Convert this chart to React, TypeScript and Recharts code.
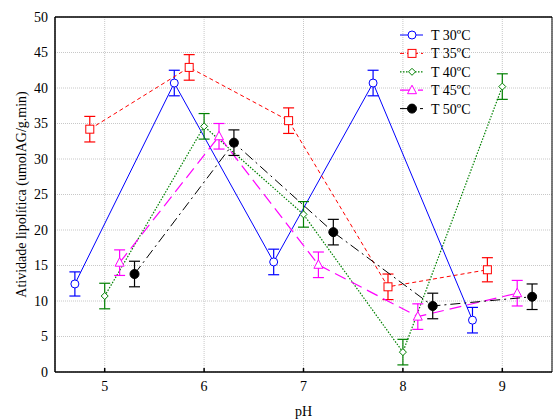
import React from 'react';
import {
  LineChart,
  Line,
  XAxis,
  YAxis,
  CartesianGrid,
  ErrorBar,
  Legend,
} from 'recharts';

// pH positions (each series is shifted a little so the error bars don't overlap)
const pH30 = [4.7, 5.7, 6.7, 7.7, 8.7];
const pH35 = [4.85, 5.85, 6.85, 7.85, 8.85];
const pH40 = [5, 6, 7, 8, 9];
const pH45 = [5.15, 6.15, 7.15, 8.15, 9.15];
const pH50 = [5.3, 6.3, 7.3, 8.3, 9.3];

// atividade lipolítica (umolAG/g.min)
const act30 = [12.4, 40.7, 15.5, 40.7, 7.3];
const act35 = [34.2, 42.9, 35.4, 12.0, 14.4];
const act40 = [10.7, 34.6, 22.2, 2.8, 40.2];
const act45 = [15.4, 33.2, 15.1, 7.8, 11.1];
const act50 = [13.8, 32.3, 19.7, 9.3, 10.6];

// desvio padrão
const err30 = [1.7, 1.8, 1.8, 1.8, 1.8];
const err35 = [1.8, 1.8, 1.8, 1.8, 1.7];
const err40 = [1.8, 1.8, 1.8, 1.8, 1.8];
const err45 = [1.8, 1.8, 1.8, 1.8, 1.8];
const err50 = [1.8, 1.8, 1.8, 1.8, 1.8];

const xTicks = [5, 6, 7, 8, 9];
const yTicks = [0, 5, 10, 15, 20, 25, 30, 35, 40, 45, 50];

const FONT = '"Liberation Serif", "DejaVu Serif", serif';

type Shape = 'circle' | 'square' | 'diamond' | 'triangle' | 'dot';

const build = (xs: number[], ys: number[], es: number[]) =>
  xs.map((x, i) => ({ x, y: ys[i], err: es[i] }));

const series = [
  { name: 'T 30ºC', data: build(pH30, act30, err30), color: '#0000ff', dash: undefined, width: 1, shape: 'circle' as Shape },
  { name: 'T 35ºC', data: build(pH35, act35, err35), color: '#ff0000', dash: '4 3', width: 1, shape: 'square' as Shape },
  { name: 'T 40ºC', data: build(pH40, act40, err40), color: '#008000', dash: '1.5 1.5', width: 1.2, shape: 'diamond' as Shape },
  { name: 'T 45ºC', data: build(pH45, act45, err45), color: '#ff00ff', dash: '12 6', width: 1.2, shape: 'triangle' as Shape },
  { name: 'T 50ºC', data: build(pH50, act50, err50), color: '#000000', dash: '10 4 2 4', width: 1, shape: 'dot' as Shape },
];

const Marker = ({ shape, color, cx, cy }: { shape: Shape; color: string; cx: number; cy: number }) => {
  if (shape === 'circle') return <circle cx={cx} cy={cy} r={4} fill="#fff" stroke={color} strokeWidth={1} />;
  if (shape === 'square') return <rect x={cx - 4} y={cy - 4} width={8} height={8} fill="#fff" stroke={color} strokeWidth={1} />;
  if (shape === 'diamond')
    return (
      <polygon
        points={`${cx},${cy - 3.5} ${cx + 3.5},${cy} ${cx},${cy + 3.5} ${cx - 3.5},${cy}`}
        fill="#fff"
        stroke={color}
        strokeWidth={1}
      />
    );
  if (shape === 'triangle')
    return (
      <polygon
        points={`${cx},${cy - 5} ${cx + 4.5},${cy + 3.5} ${cx - 4.5},${cy + 3.5}`}
        fill="#fff"
        stroke={color}
        strokeWidth={1}
      />
    );
  return <circle cx={cx} cy={cy} r={4.5} fill={color} stroke={color} />;
};

const renderLegend = () => (
  <svg width={130} height={100} style={{ display: 'block' }}>
    {series.map((s, i) => {
      const y = 11 + i * 18.4;
      return (
        <g key={s.name}>
          <line x1={0} x2={23} y1={y} y2={y} stroke={s.color} strokeWidth={s.width} strokeDasharray={s.dash} />
          <Marker shape={s.shape} color={s.color} cx={12} cy={y} />
          <text x={31} y={y + 5} fontFamily={FONT} fontSize={14} fill="#000">
            {s.name}
          </text>
        </g>
      );
    })}
  </svg>
);

const tickStyle = { fontFamily: FONT, fontSize: 14, fill: '#000' };

const App: React.FC = () => {
  return (
    <div style={{ position: 'absolute', left: 0, top: 0, background: '#fff' }}>
      <LineChart width={553} height={419} margin={{ top: 16, right: 0, bottom: 0, left: 0 }}>
        <CartesianGrid stroke="#c8c8c8" strokeDasharray="1 1" />
        <XAxis
          dataKey="x"
          type="number"
          domain={[4.5, 9.5]}
          ticks={xTicks}
          allowDuplicatedCategory={false}
          height={47}
          stroke="#000"
          strokeWidth={1.5}
          tickSize={-4}
          tickMargin={13}
          tick={tickStyle}
          label={{ value: 'pH', position: 'insideBottom', offset: 3, style: { ...tickStyle } }}
        />
        <XAxis
          xAxisId="top"
          orientation="top"
          dataKey="x"
          type="number"
          domain={[4.5, 9.5]}
          ticks={xTicks}
          height={1}
          stroke="#000"
          strokeWidth={1.5}
          tickSize={-4}
          tick={false}
        />
        <YAxis
          type="number"
          domain={[0, 50]}
          ticks={yTicks}
          width={55}
          stroke="#000"
          strokeWidth={1.5}
          tickSize={0}
          tickMargin={7}
          tick={tickStyle}
          label={{
            value: 'Atividade lipolítica (umolAG/g.min)',
            angle: -90,
            position: 'center',
            dx: -6,
            style: { ...tickStyle, textAnchor: 'middle' },
          }}
        />
        <YAxis
          yAxisId="right"
          orientation="right"
          type="number"
          domain={[0, 50]}
          ticks={yTicks}
          width={1}
          stroke="#000"
          tickSize={-4}
          tick={false}
        />
        <Legend
          layout="vertical"
          align="center"
          verticalAlign="middle"
          content={renderLegend}
          wrapperStyle={{ left: 400, top: 24, width: 130 }}
        />
        {series.map((s) => (
          <Line
            key={s.name}
            data={s.data}
            dataKey="y"
            name={s.name}
            stroke={s.color}
            strokeWidth={s.width}
            strokeDasharray={s.dash}
            isAnimationActive={false}
            dot={(p: any) => (
              <Marker key={`${s.name}-${p.index}`} shape={s.shape} color={s.color} cx={p.cx} cy={p.cy} />
            )}
            activeDot={false}
          >
            <ErrorBar dataKey="err" width={5.5} stroke={s.color} strokeWidth={1.2} direction="y" />
          </Line>
        ))}
      </LineChart>
    </div>
  );
};

export default App;
